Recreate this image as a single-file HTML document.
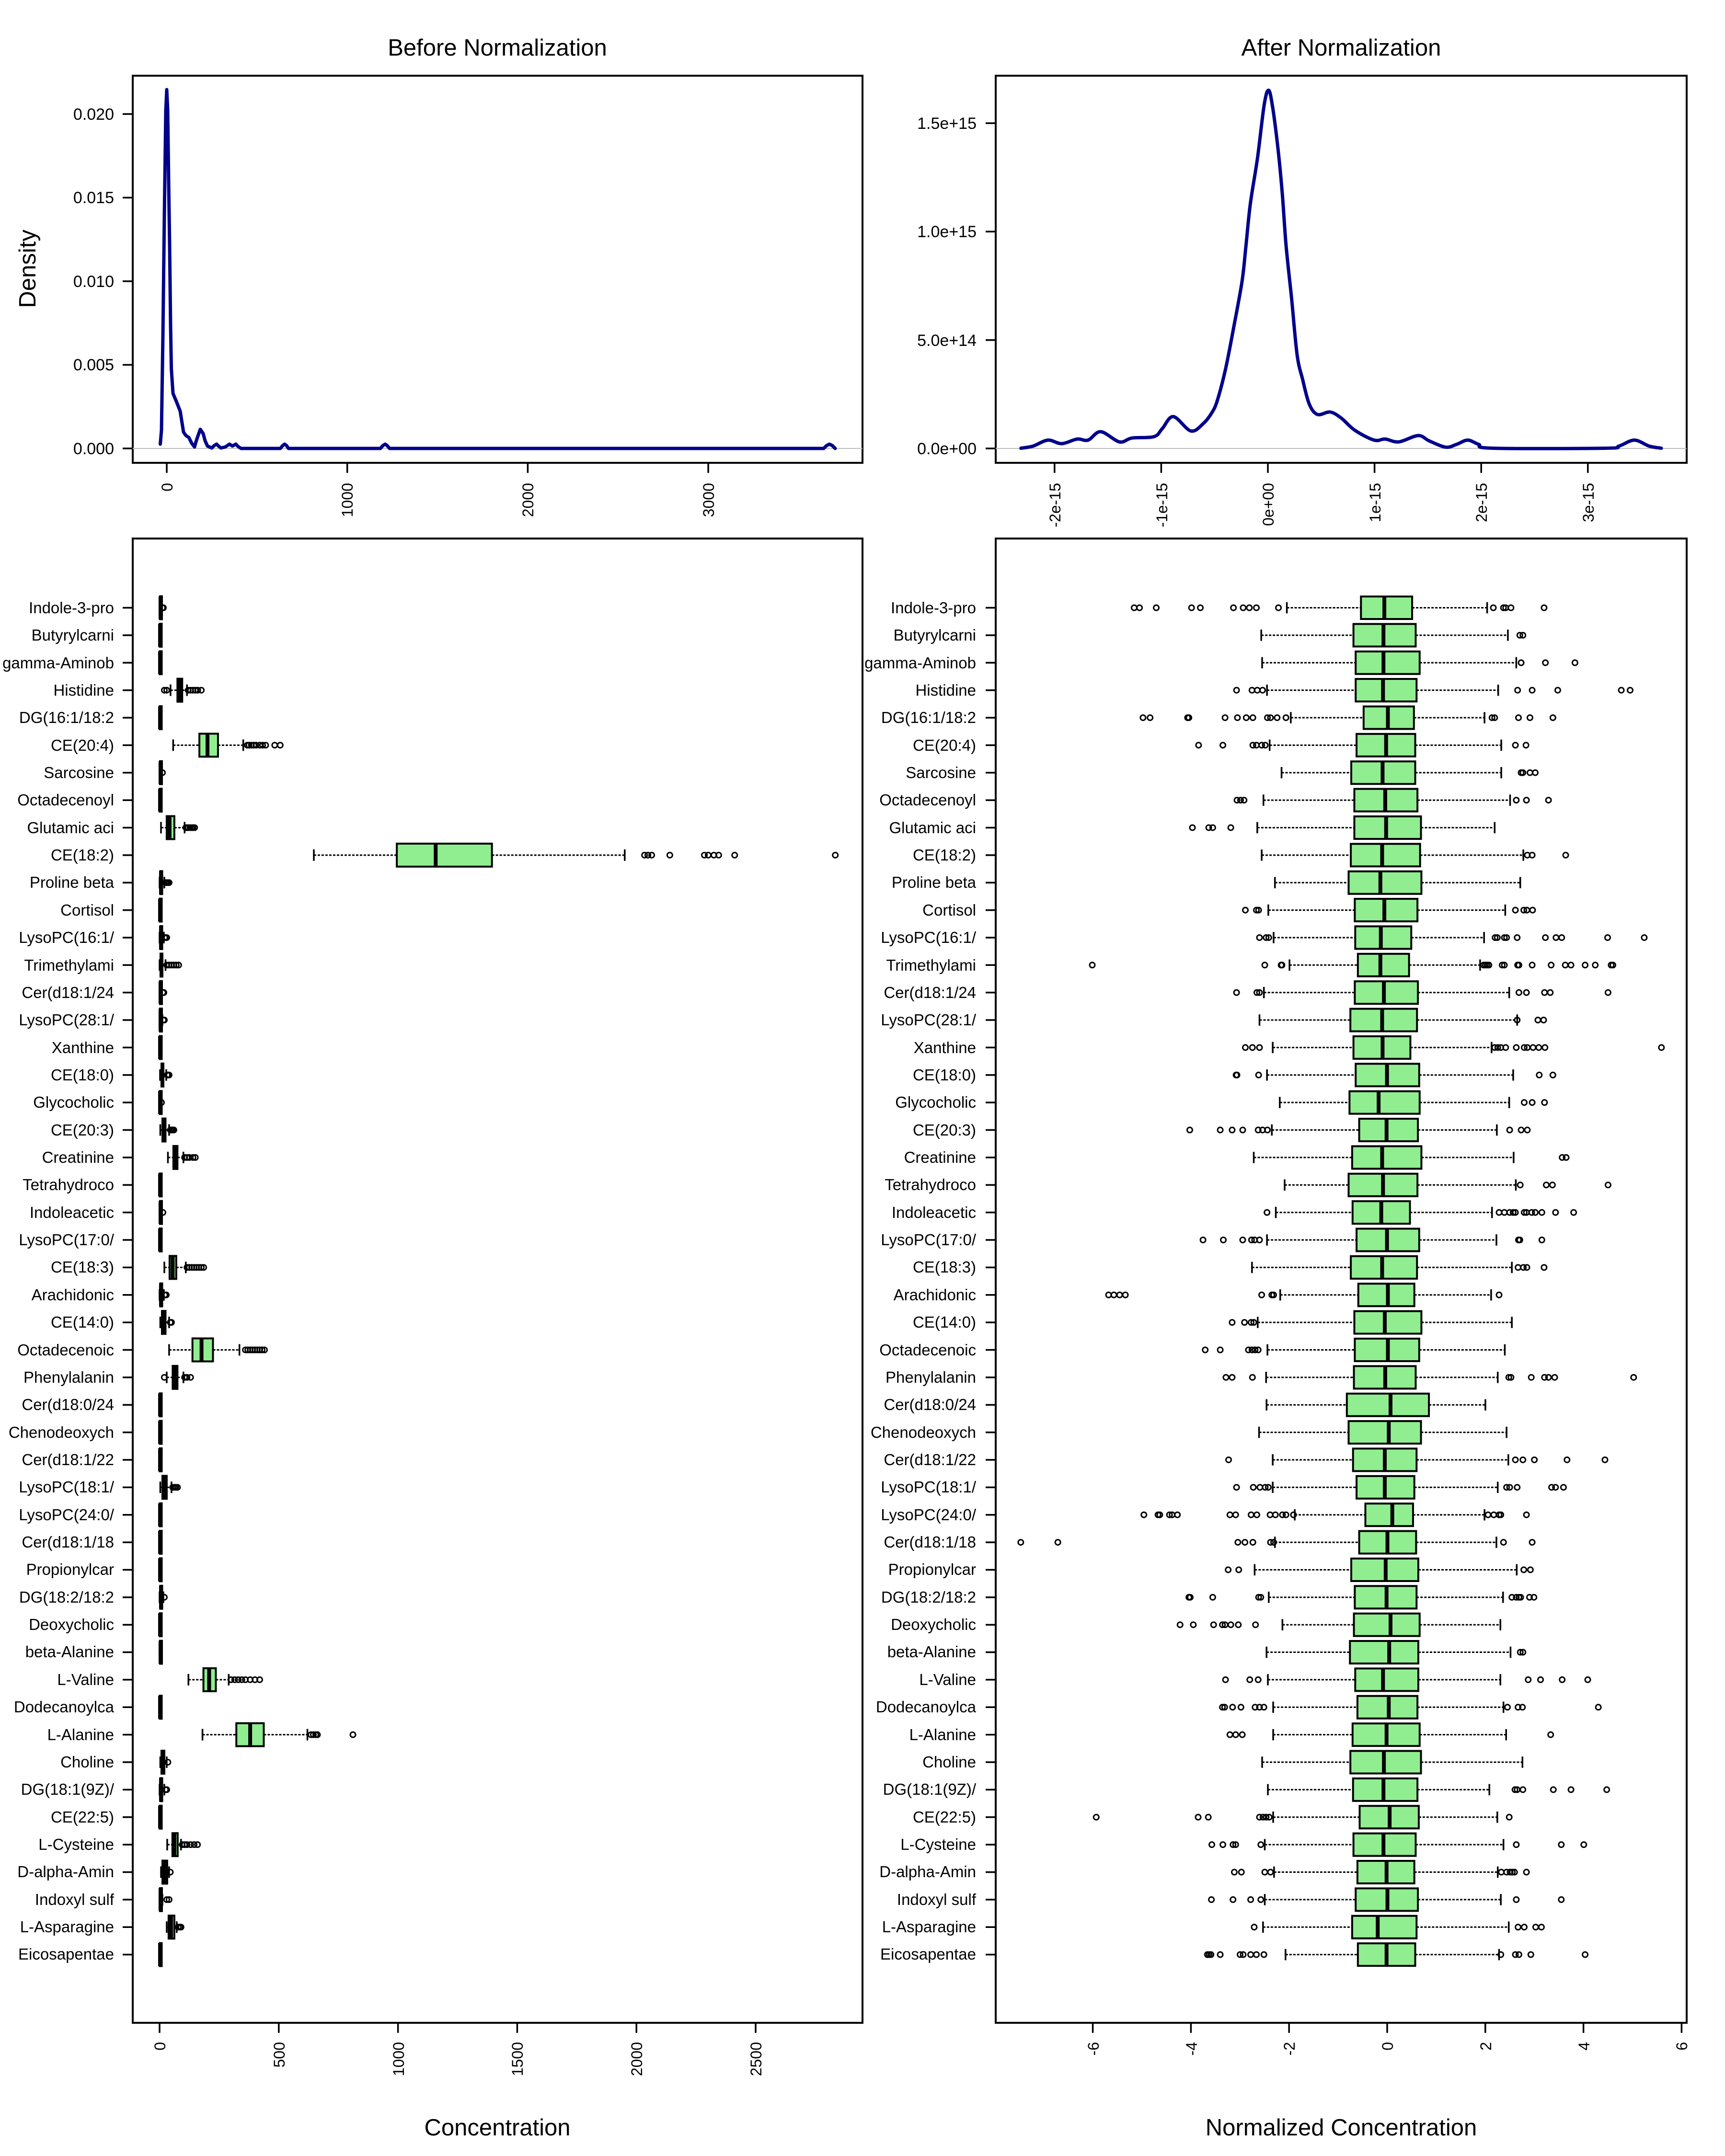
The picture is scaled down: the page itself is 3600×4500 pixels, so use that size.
<!DOCTYPE html>
<html><head><meta charset="utf-8"><style>
html,body{margin:0;padding:0;background:#fff;}
svg{display:block;font-family:"Liberation Sans",Arial,sans-serif;}
</style></head><body>
<svg id="s" xmlns="http://www.w3.org/2000/svg" width="3600" height="4500" viewBox="0 0 3600 4500">
<rect width="3600" height="4500" fill="#fff"/>
<g id="shapes"></g>
<g font-size="49" text-anchor="middle" fill="#000">
<text x="1038" y="116">Before Normalization</text>
<text x="2799" y="116">After Normalization</text>
<text x="1038" y="4457">Concentration</text>
<text x="2799" y="4457">Normalized Concentration</text>
<text transform="translate(74,561) rotate(-90)">Density</text>
</g>
<g font-size="34" text-anchor="end" fill="#000">
<text x="238" y="948">0.000</text>
<text x="238" y="773">0.005</text>
<text x="238" y="599">0.010</text>
<text x="238" y="424">0.015</text>
<text x="238" y="250">0.020</text>
<text x="2038" y="948">0.0e+00</text>
<text x="2038" y="722">5.0e+14</text>
<text x="2038" y="495">1.0e+15</text>
<text x="2038" y="269">1.5e+15</text>
</g>
<g font-size="32" text-anchor="end" fill="#000">
<text transform="translate(360,1008) rotate(-90)">0</text>
<text transform="translate(736,1008) rotate(-90)">1000</text>
<text transform="translate(1113,1008) rotate(-90)">2000</text>
<text transform="translate(1490,1008) rotate(-90)">3000</text>
<text transform="translate(2213,1008) rotate(-90)">-2e-15</text>
<text transform="translate(2436,1008) rotate(-90)">-1e-15</text>
<text transform="translate(2658,1008) rotate(-90)">0e+00</text>
<text transform="translate(2881,1008) rotate(-90)">1e-15</text>
<text transform="translate(3103,1008) rotate(-90)">2e-15</text>
<text transform="translate(3326,1008) rotate(-90)">3e-15</text>
<text transform="translate(345,4262) rotate(-90)">0</text>
<text transform="translate(594,4262) rotate(-90)">500</text>
<text transform="translate(843,4262) rotate(-90)">1000</text>
<text transform="translate(1091,4262) rotate(-90)">1500</text>
<text transform="translate(1340,4262) rotate(-90)">2000</text>
<text transform="translate(1589,4262) rotate(-90)">2500</text>
<text transform="translate(2293,4262) rotate(-90)">-6</text>
<text transform="translate(2498,4262) rotate(-90)">-4</text>
<text transform="translate(2702,4262) rotate(-90)">-2</text>
<text transform="translate(2907,4262) rotate(-90)">0</text>
<text transform="translate(3112,4262) rotate(-90)">2</text>
<text transform="translate(3317,4262) rotate(-90)">4</text>
<text transform="translate(3521,4262) rotate(-90)">6</text>
</g>
<g font-size="33" text-anchor="end" fill="#000" id="lbl">
<text x="238" y="1280">Indole-3-pro</text>
<text x="238" y="1337">Butyrylcarni</text>
<text x="238" y="1395">gamma-Aminob</text>
<text x="238" y="1452">Histidine</text>
<text x="238" y="1509">DG(16:1/18:2</text>
<text x="238" y="1567">CE(20:4)</text>
<text x="238" y="1624">Sarcosine</text>
<text x="238" y="1681">Octadecenoyl</text>
<text x="238" y="1739">Glutamic aci</text>
<text x="238" y="1796">CE(18:2)</text>
<text x="238" y="1853">Proline beta</text>
<text x="238" y="1911">Cortisol</text>
<text x="238" y="1968">LysoPC(16:1/</text>
<text x="238" y="2026">Trimethylami</text>
<text x="238" y="2083">Cer(d18:1/24</text>
<text x="238" y="2140">LysoPC(28:1/</text>
<text x="238" y="2198">Xanthine</text>
<text x="238" y="2255">CE(18:0)</text>
<text x="238" y="2312">Glycocholic</text>
<text x="238" y="2370">CE(20:3)</text>
<text x="238" y="2427">Creatinine</text>
<text x="238" y="2484">Tetrahydroco</text>
<text x="238" y="2542">Indoleacetic</text>
<text x="238" y="2599">LysoPC(17:0/</text>
<text x="238" y="2656">CE(18:3)</text>
<text x="238" y="2714">Arachidonic</text>
<text x="238" y="2771">CE(14:0)</text>
<text x="238" y="2829">Octadecenoic</text>
<text x="238" y="2886">Phenylalanin</text>
<text x="238" y="2943">Cer(d18:0/24</text>
<text x="238" y="3001">Chenodeoxych</text>
<text x="238" y="3058">Cer(d18:1/22</text>
<text x="238" y="3115">LysoPC(18:1/</text>
<text x="238" y="3173">LysoPC(24:0/</text>
<text x="238" y="3230">Cer(d18:1/18</text>
<text x="238" y="3287">Propionylcar</text>
<text x="238" y="3345">DG(18:2/18:2</text>
<text x="238" y="3402">Deoxycholic</text>
<text x="238" y="3459">beta-Alanine</text>
<text x="238" y="3517">L-Valine</text>
<text x="238" y="3574">Dodecanoylca</text>
<text x="238" y="3632">L-Alanine</text>
<text x="238" y="3689">Choline</text>
<text x="238" y="3746">DG(18:1(9Z)/</text>
<text x="238" y="3804">CE(22:5)</text>
<text x="238" y="3861">L-Cysteine</text>
<text x="238" y="3918">D-alpha-Amin</text>
<text x="238" y="3976">Indoxyl sulf</text>
<text x="238" y="4033">L-Asparagine</text>
<text x="238" y="4090">Eicosapentae</text>
</g>
<g font-size="33" text-anchor="end" fill="#000">
<text x="2037" y="1280">Indole-3-pro</text>
<text x="2037" y="1337">Butyrylcarni</text>
<text x="2037" y="1395">gamma-Aminob</text>
<text x="2037" y="1452">Histidine</text>
<text x="2037" y="1509">DG(16:1/18:2</text>
<text x="2037" y="1567">CE(20:4)</text>
<text x="2037" y="1624">Sarcosine</text>
<text x="2037" y="1681">Octadecenoyl</text>
<text x="2037" y="1739">Glutamic aci</text>
<text x="2037" y="1796">CE(18:2)</text>
<text x="2037" y="1853">Proline beta</text>
<text x="2037" y="1911">Cortisol</text>
<text x="2037" y="1968">LysoPC(16:1/</text>
<text x="2037" y="2026">Trimethylami</text>
<text x="2037" y="2083">Cer(d18:1/24</text>
<text x="2037" y="2140">LysoPC(28:1/</text>
<text x="2037" y="2198">Xanthine</text>
<text x="2037" y="2255">CE(18:0)</text>
<text x="2037" y="2312">Glycocholic</text>
<text x="2037" y="2370">CE(20:3)</text>
<text x="2037" y="2427">Creatinine</text>
<text x="2037" y="2484">Tetrahydroco</text>
<text x="2037" y="2542">Indoleacetic</text>
<text x="2037" y="2599">LysoPC(17:0/</text>
<text x="2037" y="2656">CE(18:3)</text>
<text x="2037" y="2714">Arachidonic</text>
<text x="2037" y="2771">CE(14:0)</text>
<text x="2037" y="2829">Octadecenoic</text>
<text x="2037" y="2886">Phenylalanin</text>
<text x="2037" y="2943">Cer(d18:0/24</text>
<text x="2037" y="3001">Chenodeoxych</text>
<text x="2037" y="3058">Cer(d18:1/22</text>
<text x="2037" y="3115">LysoPC(18:1/</text>
<text x="2037" y="3173">LysoPC(24:0/</text>
<text x="2037" y="3230">Cer(d18:1/18</text>
<text x="2037" y="3287">Propionylcar</text>
<text x="2037" y="3345">DG(18:2/18:2</text>
<text x="2037" y="3402">Deoxycholic</text>
<text x="2037" y="3459">beta-Alanine</text>
<text x="2037" y="3517">L-Valine</text>
<text x="2037" y="3574">Dodecanoylca</text>
<text x="2037" y="3632">L-Alanine</text>
<text x="2037" y="3689">Choline</text>
<text x="2037" y="3746">DG(18:1(9Z)/</text>
<text x="2037" y="3804">CE(22:5)</text>
<text x="2037" y="3861">L-Cysteine</text>
<text x="2037" y="3918">D-alpha-Amin</text>
<text x="2037" y="3976">Indoxyl sulf</text>
<text x="2037" y="4033">L-Asparagine</text>
<text x="2037" y="4090">Eicosapentae</text>
</g>
</svg>
<script>
(function(){
var NS="http://www.w3.org/2000/svg",G=document.getElementById("shapes");
function el(t,a){var e=document.createElementNS(NS,t);for(var k in a)e.setAttribute(k,a[k]);G.appendChild(e);return e;}
function line(x1,y1,x2,y2,w,extra){var a={x1:x1,y1:y1,x2:x2,y2:y2,stroke:"#000","stroke-width":w||3.5};if(extra)for(var k in extra)a[k]=extra[k];return el("line",a);}
function rect(x,y,w,h){el("rect",{x:x,y:y,width:w,height:h,fill:"none",stroke:"#000","stroke-width":4});}
rect(277,158,1523,808);rect(2078,158,1442,808);rect(277,1124,1523,3098);rect(2078,1124,1442,3098);
line(277,936,1800,936,2,{stroke:"#BEBEBE"});line(2078,936,3520,936,2,{stroke:"#BEBEBE"});
var i,y,x;
for(i=0;i<=4;i++){y=936-i*174.5;line(256,y,277,y);}
for(i=0;i<=3;i++){x=348+i*376.7;line(x,966,x,987);}
for(i=0;i<=3;i++){y=936-i*226.3;line(2057,y,2078,y);}
for(i=-2;i<=3;i++){x=2646+i*222.6;line(x,966,x,987);}
for(i=0;i<=5;i++){x=333+i*248.8;line(x,4222,x,4243);}
for(i=-3;i<=3;i++){x=2895+i*204.8;line(x,4222,x,4243);}
var RY=function(r){return 1268.5+r*57.37;};
for(i=0;i<50;i++){y=RY(i);line(256,y,277,y);line(2057,y,2078,y);}
function curve(pts,w){var d="M"+pts[0][0]+","+pts[0][1];for(var k=0;k<pts.length-1;k++){var p0=pts[k-1]||pts[k],p1=pts[k],p2=pts[k+1],p3=pts[k+2]||p2;var c1x=p1[0]+(p2[0]-p0[0])/6,c1y=p1[1]+(p2[1]-p0[1])/6,c2x=p2[0]-(p3[0]-p1[0])/6,c2y=p2[1]-(p3[1]-p1[1])/6;d+=" C"+c1x+","+c1y+" "+c2x+","+c2y+" "+p2[0]+","+p2[1];}
el("path",{d:d,fill:"none",stroke:"#00008B","stroke-width":w,"stroke-linejoin":"round","stroke-linecap":"round"});}
function poly(pts,w){el("polyline",{points:pts.map(function(p){return p.join(",");}).join(" "),fill:"none",stroke:"#00008B","stroke-width":w,"stroke-linejoin":"round","stroke-linecap":"round"});}
poly([[334.5,927],[337,898],[340,700],[343,450],[346,230],[348,187],[350,230],[352,380],[354,513],[356,680],[357.6,770],[361,821],[368.5,839],[376,858],[383,902],[388,909],[394,913],[400,925],[406,933],[409,922],[412,913],[418,896],[424,905],[428,920],[433,931],[442,935],[447,930],[452,927],[456,931],[461,935],[470,933],[479,927],[485,931],[492,927],[497,932],[503,936],[585,936],[590,930],[594,927],[598,930],[602,936],[794,936],[799,930],[804,927],[808,930],[813,936],[1719,936],[1725,930],[1731,927],[1737,930],[1743,936]],7);
var rp=[[288,1276],[310,1270],[337,1253],[362,1263],[390,1250],[410,1253],[433,1229],[467,1258],[490,1247],[530,1243],[545,1220],[565,1186],[597,1227],[620,1205],[635,1175],[645,1140],[660,1050],[675,930],[690,800],[697,700],[705,580],[718,450],[730,300],[738,257],[745,300],[755,420],[763,550],[770,700],[780,850],[790,1010],[800,1080],[812,1150],[827,1180],[850,1173],[870,1190],[895,1225],[930,1253],[950,1250],[975,1258],[1010,1240],[1030,1255],[1060,1273],[1080,1265],[1100,1253],[1120,1265],[1145,1276],[1350,1276],[1375,1270],[1403,1253],[1430,1270],[1452,1276]];
curve(rp.map(function(p){return [1800+p[0]/0.871,p[1]/1.364];}),7);
function box(r,wl,q1,md,q3,wh,outs,hh){var yc=RY(r),h=hh;
 line(wl,yc,q1,yc,3,{"stroke-dasharray":"5,3"});line(q3,yc,wh,yc,3,{"stroke-dasharray":"5,3"});
 line(wl,yc-h/4,wl,yc+h/4,3.5);line(wh,yc-h/4,wh,yc+h/4,3.5);
 var w=Math.max(q3-q1,4);
 el("rect",{x:q1,y:yc-h/2,width:w,height:h,fill:"#90EE90",stroke:"#000","stroke-width":4});
 line(md,yc-h/2,md,yc+h/2,8);
 outs.forEach(function(o){el("circle",{cx:o,cy:yc,r:5.5,fill:"none",stroke:"#000","stroke-width":3});});}
var L=function(v){return 333+v*0.4976;};
var ld=[[0,2,4,6,10,[12,14,16]],[0,1,2,3,4,[]],[0,1,2,3,4,[]],[46,75,85,95,115,[20,30,120,130,140,150,160,175]],[0,1,2,3,5,[]],
[57,167,201,245,351,[368,375,385,395,405,420,432,445,483,506]],[1,2,4,6,10,[12]],[0,1,2,3,4,[]],[6,30,42,62,105,[110,115,120,128,135,140,147]],
[647,995,1158,1394,1951,[2034,2048,2064,2140,2285,2301,2325,2345,2412,2834]],[0,3,6,10,20,[25,30,35,40]],[0,1,2,3,5,[]],[0,3,6,10,18,[22,26,30]],
[0,4,8,12,25,[30,40,50,60,70,80]],[0,2,4,6,10,[14,18]],[0,2,4,6,12,[16,20]],[0,1,2,3,5,[]],[2,8,12,16,28,[32,36,40]],[0,1,2,3,5,[8]],
[3,12,18,25,40,[45,50,55,60]],[35,58,65,75,100,[105,115,125,140,150]],[0,1,2,3,5,[]],[0,2,4,6,10,[14]],[0,1,2,3,5,[]],[20,42,55,70,110,[115,125,135,145,155,165,175,185]],
[0,3,6,10,18,[22,28]],[3,10,17,25,40,[45,50]],[40,138,176,224,335,[360,370,380,390,400,410,420,430,440]],[30,55,65,75,100,[20,105,115,130]],[0,1,2,3,5,[]],[0,1,2,3,5,[]],[0,1,2,3,5,[]],
[3,12,20,30,50,[55,62,68,75]],[0,1,2,3,5,[]],[0,1,2,3,5,[]],[0,1,2,3,5,[]],[0,3,6,10,16,[20]],[0,1,2,3,5,[]],[0,2,4,6,10,[]],
[121,184,208,236,290,[300,315,330,345,360,380,400,420]],[0,1,2,3,5,[]],[180,322,380,437,620,[635,645,655,662,811]],[3,8,13,20,30,[35]],[0,3,6,10,20,[25,30]],[0,1,2,3,5,[]],
[32,54,62,76,90,[95,105,115,130,145,159]],[6,12,20,32,40,[45]],[0,2,4,7,12,[30,40]],[30,38,48,62,72,[78,85,90]],[0,1,2,3,5,[]]];
ld.forEach(function(d,r){box(r,L(d[0]),L(d[1]),L(d[2]),L(d[3]),L(d[4]),d[5].map(L),48);});
var R=function(p){return 2076+p/1.086;};
var rd=[[662,830,883,946,1116,[316,328,366,446,466,541,563,577,593,643,1130,1153,1158,1170,1245]],
[604,813,881,954,1163,[1190,1197]],[606,818,881,963,1182,[1193,1248,1315]],[617,818,880,956,1141,[548,583,595,607,1185,1218,1276,1420,1440]],
[671,836,891,950,1110,[336,352,437,440,522,550,570,585,618,625,640,660,1127,1133,1187,1213,1265]],[623,820,887,953,1148,[462,517,585,593,605,613,1180,1204]],
[650,808,879,953,1148,[1193,1197,1213,1225]],[609,815,885,958,1168,[549,557,565,1182,1205,1255]],[595,815,887,966,1133,[448,485,494,535]],
[605,807,878,964,1198,[1207,1218,1294]],[635,802,874,967,1191,[]],[620,816,883,958,1157,[568,593,598,1180,1199,1206,1219]],
[632,817,875,944,1109,[600,615,621,1134,1139,1155,1160,1184,1248,1272,1285,1389,1472]],
[668,823,874,939,1100,[221,612,649,651,1108,1112,1116,1120,1150,1155,1185,1188,1218,1261,1293,1306,1338,1361,1397,1401]],
[610,816,882,959,1166,[548,594,600,1188,1205,1246,1259,1390]],[600,806,878,957,1184,[1184,1231,1244]],
[630,813,879,942,1126,[568,584,600,1133,1140,1147,1158,1182,1200,1207,1220,1233,1247,1511]],[617,818,889,962,1175,[547,549,598,1234,1265]],
[646,804,870,963,1166,[1200,1218,1246]],[628,826,888,959,1138,[442,511,538,562,597,607,618,1167,1193,1207]],[587,810,878,967,1176,[1286,1295]],
[657,802,880,958,1181,[1191,1250,1264,1390]],[637,811,876,941,1127,[617,1143,1155,1167,1175,1180,1200,1205,1217,1225,1240,1271,1312]],
[617,820,889,962,1137,[472,518,562,582,589,600,1187,1190,1240]],[583,807,878,957,1172,[1186,1198,1206,1245]],
[647,824,891,951,1125,[258,270,283,296,605,628,632,1143]],[596,815,884,967,1172,[538,566,581,587]],[618,816,891,962,1156,[477,511,575,583,590,597]],
[615,814,885,954,1140,[524,538,584,1165,1170,1216,1246,1255,1269,1448]],[616,798,897,984,1112,[]],[599,802,893,966,1160,[]],
[630,812,884,956,1164,[530,1180,1197,1223,1297,1383]],[630,820,884,951,1140,[548,586,601,613,620,1160,1167,1184,1262,1271,1289]],
[680,840,901,948,1110,[338,370,374,396,402,414,533,546,581,594,624,636,652,660,677,1118,1131,1143,1147,1205]],
[635,826,890,955,1137,[59,143,551,567,585,625,632,1153,1218]],[589,808,886,960,1183,[529,553,1199,1214]],
[621,816,888,956,1152,[440,443,494,598,603,1172,1182,1188,1192,1212,1222]],[652,814,897,963,1146,[420,450,496,516,522,535,552,591]],
[616,805,894,960,1169,[1191,1197]],[619,817,880,960,1146,[523,578,597,1209,1237,1286,1344]],[631,822,893,958,1153,[516,521,539,558,590,600,610,1162,1186,1196,1368]],
[631,811,888,963,1159,[533,546,561,1260]],[606,806,882,966,1196,[]],[619,812,881,958,1121,[1179,1184,1197,1266,1306,1387]],
[631,827,895,961,1139,[230,461,484,600,608,615,622,1166]],[612,813,881,954,1153,[492,517,540,546,603,1182,1284,1335]],
[633,822,888,951,1140,[543,559,612,625,1148,1160,1168,1173,1178,1205]],[612,818,890,959,1147,[491,540,580,603,1182,1284]],
[608,810,868,956,1165,[588,1186,1200,1226,1239]],[659,823,888,953,1143,[482,486,490,511,556,563,580,593,610,1147,1180,1188,1215,1338]]];
rd.forEach(function(d,r){box(r,R(d[0]),R(d[1]),R(d[2]),R(d[3]),R(d[4]),d[5].map(R),47);});
})();
</script>
</body></html>
